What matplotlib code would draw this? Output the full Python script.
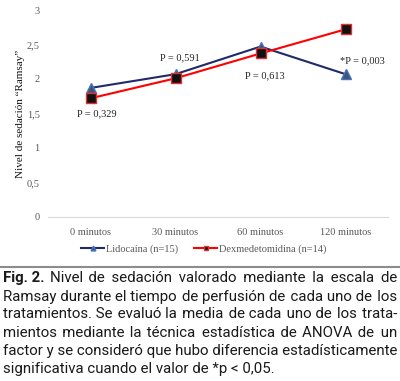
import matplotlib
matplotlib.use("Agg")
import matplotlib.pyplot as plt
from matplotlib.lines import Line2D

# data
tiempos = ["0 minutos", "30 minutos", "60 minutos", "120 minutos"]
lidocaina = [1.87, 2.07, 2.47, 2.07]
dexmedetomidina = [1.72, 2.01, 2.37, 2.72]
p_labels = ["P = 0,329", "P = 0,591", "P = 0,613", "*P = 0,003"]
p_pos = [(0.07, 1.49), (1.05, 2.31), (2.05, 2.05), (3.2, 2.26)]
yticks = [0, 0.5, 1, 1.5, 2, 2.5, 3]
ytick_labels = ["0", "0,5", "1", "1,5", "2", "2,5", "3"]

caption_bold = "Fig. 2."
caption = [
    "Nivel de sedación valorado mediante la escala de",
    "Ramsay durante el tiempo de perfusión de cada uno de los",
    "tratamientos. Se evaluó la media de cada uno de los trata-",
    "mientos mediante la técnica estadística de ANOVA de un",
    "factor y se consideró que hubo diferencia estadísticamente",
    "significativa cuando el valor de *p < 0,05.",
]

serif = "Liberation Serif"
gray = "#595959"

fig = plt.figure(figsize=(4.0, 3.81), dpi=100)
ax = fig.add_axes([0.12, 1 - 217 / 381, 0.85, 207 / 381])

x = range(len(tiempos))
ax.plot(x, lidocaina, color="#1f2a66", lw=1.5, marker="^", ms=7,
        mfc="#44546a", mec="#4472c4", mew=1, label="Lidocaína (n=15)")
ax.plot(x, dexmedetomidina, color="#ff0000", lw=1.5, marker="s", ms=6.5,
        mfc="#111111", mec="#e03030", mew=1, label="Dexmedetomidina (n=14)")

for lab, (px, py) in zip(p_labels, p_pos):
    ax.text(px, py, lab, family=serif, fontsize=7.5, ha="center", va="center",
            color="#222222")

ax.set_xlim(-0.5, len(tiempos) - 0.5)
ax.set_ylim(0, 3)
ax.set_xticks(list(x))
ax.set_xticklabels(tiempos, family=serif, fontsize=7.5, color=gray)
ax.set_yticks(yticks)
ax.set_yticklabels(ytick_labels, family=serif, fontsize=7.5, color=gray)
ax.tick_params(axis="x", length=0, pad=8)
ax.tick_params(axis="y", length=0, pad=6)
for s in ["top", "right", "left"]:
    ax.spines[s].set_visible(False)
ax.spines["bottom"].set_color("#d9d9d9")
ax.set_ylabel("Nivel de sedación \u201cRamsay\u201d", family=serif, fontsize=8,
              color="#111111", labelpad=1)

handles, labels = ax.get_legend_handles_labels()
fig.legend(handles, labels, loc="center", bbox_to_anchor=(0.51, 1 - 249 / 381),
           ncol=2, frameon=False, handlelength=2.2, handletextpad=0.2,
           columnspacing=1.5, markerscale=0.5,
           prop={"family": serif, "size": 7.5})
for t in fig.legends[0].get_texts():
    t.set_color(gray)

fig.add_artist(Line2D([0, 1], [1 - 267 / 381] * 2, color="#8c8c8c", lw=1.5,
                      transform=fig.transFigure))

# caption, justified by padding the spaces with hair spaces
renderer = fig.canvas.get_renderer()
x0, x1 = 3, 397
fs = 10.8
fam = ["Roboto", "DejaVu Sans"]
hair = "\u200a"
baselines = [282, 300.5, 318.5, 337, 355, 373]


def width(t):
    return t.get_window_extent(renderer).width


probe = fig.text(0, 0, "a" + hair * 10 + "a", fontsize=fs, family=fam)
w_aa = fig.text(0, 0, "aa", fontsize=fs, family=fam)
hw = (width(probe) - width(w_aa)) / 10
probe.remove()
w_aa.remove()

for i, line in enumerate(caption):
    left = x0
    if i == 0:
        b = fig.text(x0 / 400, 1 - baselines[0] / 381, caption_bold, fontsize=fs,
                     family=fam, weight="bold", color="#1a1a1a", va="baseline")
        left = x0 + width(b) + 5
    t = fig.text(left / 400, 1 - baselines[i] / 381, line, fontsize=fs,
                 family=fam, color="#1a1a1a", va="baseline", ha="left")
    if i < len(caption) - 1:
        gaps = line.split(" ")
        extra = (x1 - left - width(t)) / hw
        n = max(int(round(extra)), 0)
        ng = len(gaps) - 1
        parts = [gaps[0]]
        for k in range(ng):
            cnt = n * (k + 1) // ng - n * k // ng
            parts.append(" " + hair * cnt + gaps[k + 1])
        t.set_text("".join(parts))

fig.savefig("out.png", dpi=100)
